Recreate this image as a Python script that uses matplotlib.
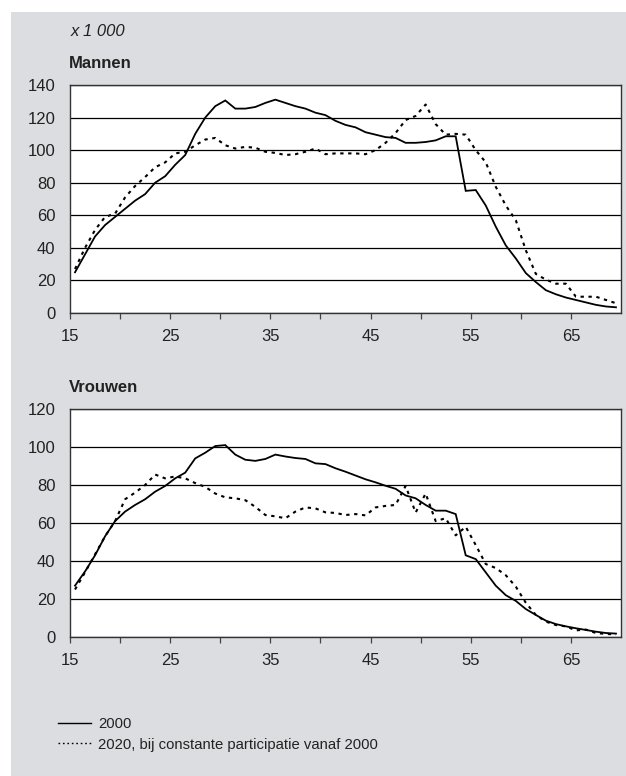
import matplotlib
matplotlib.use("Agg")
import matplotlib.pyplot as plt
from matplotlib.lines import Line2D
from matplotlib.patches import Rectangle
import numpy as np

plt.rcParams['font.family'] = ['Liberation Sans', 'DejaVu Sans']

ages = list(range(15, 70))
men_2000 = [25, 36, 47, 54, 59, 64, 69, 73, 80, 84, 91, 97, 110, 120, 127, 130.5,
            125.5, 125.5, 126.5, 129, 131, 129, 127, 125.5, 123, 121.5, 118, 115.5,
            114, 111, 109.5, 108, 107.5, 104.5, 104.5, 105, 106, 108.5, 108.5, 75,
            75.5, 66, 53, 41.5, 33.5, 24.5, 19, 14, 11.5, 9.5, 8, 6.5, 5, 4, 3.5]
men_2020 = [27, 40, 51, 59, 61, 71, 78, 83.5, 89.5, 92.5, 98, 99, 103, 106.5, 107.5,
            103, 101, 102, 101.5, 99, 98.3, 97, 97.5, 99, 101, 97.5, 98, 98, 98, 97.5,
            100, 104.5, 110.5, 118.5, 121, 128, 116, 109.5, 110, 109.5, 100, 92.5,
            77.5, 66, 57, 38.5, 24, 20.5, 18, 18, 10, 10, 10, 8, 6]
women_2000 = [27, 34.5, 43, 53, 61, 66, 69.5, 72.5, 76.5, 79.5, 83.5, 86.5, 94, 97,
              100.5, 101, 96, 93.3, 92.7, 93.7, 96, 95, 94.2, 93.7, 91.4, 91, 88.8, 87,
              85, 83, 81.4, 79.6, 78, 74.5, 73, 69.5, 66.5, 66.5, 64.7, 43, 41, 34, 27,
              22, 19, 14.7, 11.6, 8.6, 6.8, 5.6, 4.6, 3.7, 2.8, 2.1, 1.8]
women_2020 = [25, 34, 43.5, 53, 61, 72.5, 76, 80, 85.5, 83.5, 84.5, 83.5, 81, 79, 75.5,
              73.5, 73, 72, 68.5, 64.2, 63.5, 62.5, 66, 68.2, 67.7, 65.6, 65.3, 64.2,
              64.7, 64, 68.2, 69, 69.5, 79.5, 65.5, 75.5, 61, 62.5, 53.5, 58, 48.4,
              38.4, 36.3, 32.5, 26.5, 18, 11.6, 8.1, 6.3, 5.6, 3.5, 3.9, 2.1, 1.6, 1.4]

x_tick_labels = ['15', '', '25', '', '35', '', '45', '', '55', '', '65']
labels = ['2000', '2020, bij constante participatie vanaf 2000']
panel_titles = ['Mannen', 'Vrouwen']
unit_text = 'x 1 000'

W, H = 626, 776
fig = plt.figure(figsize=(W / 100, H / 100), dpi=100)
fig.patch.set_facecolor('white')
fig.patches.append(Rectangle((11 / W, 0), 1 - 11 / W, 1 - 12 / H, transform=fig.transFigure,
                             facecolor='#dcdde0', edgecolor='none', zorder=-10))

dotted = (0, (1.6, 2.2))
TXT = '#222222'

def make_panel(top_px, ymax, s2000, s2020, title):
    ax = fig.add_axes([70 / W, 1 - (top_px + 228) / H, 551 / W, 228 / H])
    ax.set_zorder(1)
    ax.set_facecolor('white')
    ax.plot(ages, s2000, color='black', lw=1.3, solid_joinstyle='miter', zorder=3)
    ax.plot(ages, s2020, color='black', lw=1.5, linestyle=dotted, zorder=3)
    ax.set_xlim(14.5, 69.5)
    ax.set_ylim(0, ymax)
    ax.set_yticks(np.arange(0, ymax + 1, 20))
    ax.set_xticks(np.arange(14.5, 69, 5))
    ax.set_xticklabels(x_tick_labels)
    ax.grid(axis='y', color='black', lw=0.9)
    ax.set_axisbelow(True)
    ax.tick_params(axis='y', length=0, pad=10.5, labelsize=12, colors=TXT)
    ax.tick_params(axis='x', length=4.3, width=0.9, direction='out', pad=7,
                   labelsize=12, colors=TXT)
    ax.tick_params(axis='x', color='#444444')
    for sp in ax.spines.values():
        sp.set_color('#333333')
        sp.set_linewidth(1.0)
    fig.text(69 / W, 1 - (top_px - 21) / H, title, fontsize=12, fontweight='bold',
             ha='left', va='center', color=TXT)
    return ax

make_panel(85, 140, men_2000, men_2020, panel_titles[0])
make_panel(409, 120, women_2000, women_2020, panel_titles[1])

fig.text(71 / W, 1 - 32 / H, unit_text, fontsize=12, style='italic',
         ha='left', va='center', color=TXT)

handles = [Line2D([], [], color='black', lw=1.0),
           Line2D([], [], color='black', lw=1.0, linestyle=(0, (1.2, 2.0)))]
fig.legend(handles, labels, loc='upper left', bbox_to_anchor=(52 / W, 1 - 711 / H),
           frameon=False, fontsize=10.7, handlelength=2.2, handletextpad=0.5,
           labelspacing=0.45, borderaxespad=0, labelcolor=TXT)

fig.savefig('out.png', dpi=100, facecolor=fig.get_facecolor())
